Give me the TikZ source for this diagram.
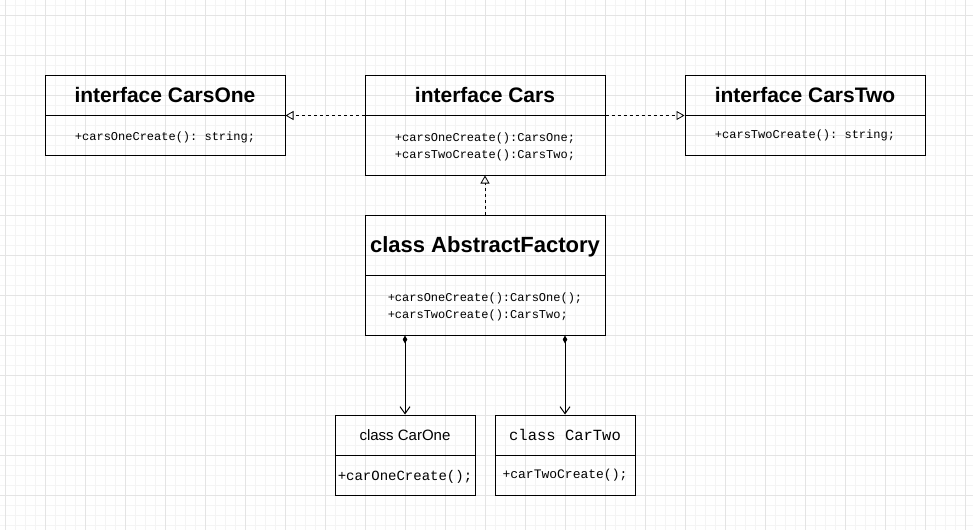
\documentclass[tikz,border=0pt]{standalone}
\usepackage{fontspec}
\setmainfont{Liberation Sans}
\setmonofont{Liberation Mono}
\usetikzlibrary{arrows.meta}

\definecolor{gridminor}{HTML}{F4F4F4}
\definecolor{gridmajor}{HTML}{E4E4E4}

\newcommand{\down}[2][2pt]{\raisebox{-#1}[\height][\depth]{#2}}

\tikzset{
	umlhead/.style={draw, line width=1pt, minimum width=240pt, minimum height=40pt, font=\fontsize{21pt}{25pt}\selectfont\bfseries},
	umlbody/.style={draw, line width=1pt, minimum width=240pt, minimum height=40pt, font=\fontsize{12pt}{17pt}\selectfont\ttfamily},
	realize/.style={line width=0.8pt, dash pattern=on 3pt off 3pt, -{Triangle[open, length=8pt, width=9pt]}},
	compose/.style={line width=1pt, {Diamond[length=8pt, width=4.5pt]}-{Straight Barb[length=7pt, width=10pt]}}
}

\begin{document}
\begin{tikzpicture}[x=1pt, y=-1pt]
	\tikzstyle{every node}=[align=center, inner sep=1pt]
	\fill[white] (0,0) rectangle (973,530);
	\useasboundingbox (0,0) rectangle (973,530);
	% grid
	\foreach \x in {5,15,...,965} \draw[gridminor, line width=0.6pt] (\x,0) -- (\x,530);
	\foreach \y in {5,15,...,525} \draw[gridminor, line width=0.6pt] (0,\y) -- (973,\y);
	\foreach \x in {5,45,...,965} \draw[gridmajor, line width=0.6pt] (\x,0) -- (\x,530);
	\foreach \y in {15,55,...,525} \draw[gridmajor, line width=0.6pt] (0,\y) -- (973,\y);

	\node[umlhead] (CarsOneH) at (165, 95) {interface CarsOne};
	\node[umlbody] (CarsOneB) at (165, 135) {\down{+carsOneCreate(): string;}};

	\node[umlhead] (CarsH) at (485, 95) {interface Cars};
	\node[umlbody, minimum height=60pt] (CarsB) at (485, 145) {\down{+carsOneCreate():CarsOne;}\\\down{+carsTwoCreate():CarsTwo;}};

	\node[umlhead] (CarsTwoH) at (805, 95) {interface CarsTwo};
	\node[umlbody] (CarsTwoB) at (805, 135) {+carsTwoCreate(): string;};

	\node[umlhead, minimum height=60pt, font=\fontsize{22pt}{26pt}\selectfont\bfseries] (FactoryH) at (485, 245) {\down[1.5pt]{class AbstractFactory}};
	\node[umlbody, minimum height=60pt, align=left] (FactoryB) at (485, 305) {\down{+carsOneCreate():CarsOne();}\\\down{+carsTwoCreate():CarsTwo;}};

	\node[umlhead, minimum width=140pt, font=\fontsize{15pt}{18pt}\selectfont] (CarOneH) at (405, 435) {class CarOne};
	\node[umlbody, minimum width=140pt, font=\fontsize{14pt}{17pt}\selectfont\ttfamily] (CarOneB) at (405, 475) {\down[1.5pt]{+carOneCreate();}};

	\node[umlhead, minimum width=140pt, font=\fontsize{15.5pt}{18pt}\selectfont\ttfamily] (CarTwoH) at (565, 435) {class CarTwo};
	\node[umlbody, minimum width=140pt, font=\fontsize{13pt}{16pt}\selectfont\ttfamily] (CarTwoB) at (565, 475) {+carTwoCreate();};

	\draw[realize] (CarsH.south west) -- (CarsOneH.south east);
	\draw[realize] (CarsH.south east) -- (CarsTwoH.south west);
	\draw[realize] (FactoryH.north) -- (CarsB.south);
	\draw[compose] (FactoryB.south -| CarOneH.north) -- (CarOneH.north);
	\draw[compose] (FactoryB.south -| CarTwoH.north) -- (CarTwoH.north);
\end{tikzpicture}
\end{document}
